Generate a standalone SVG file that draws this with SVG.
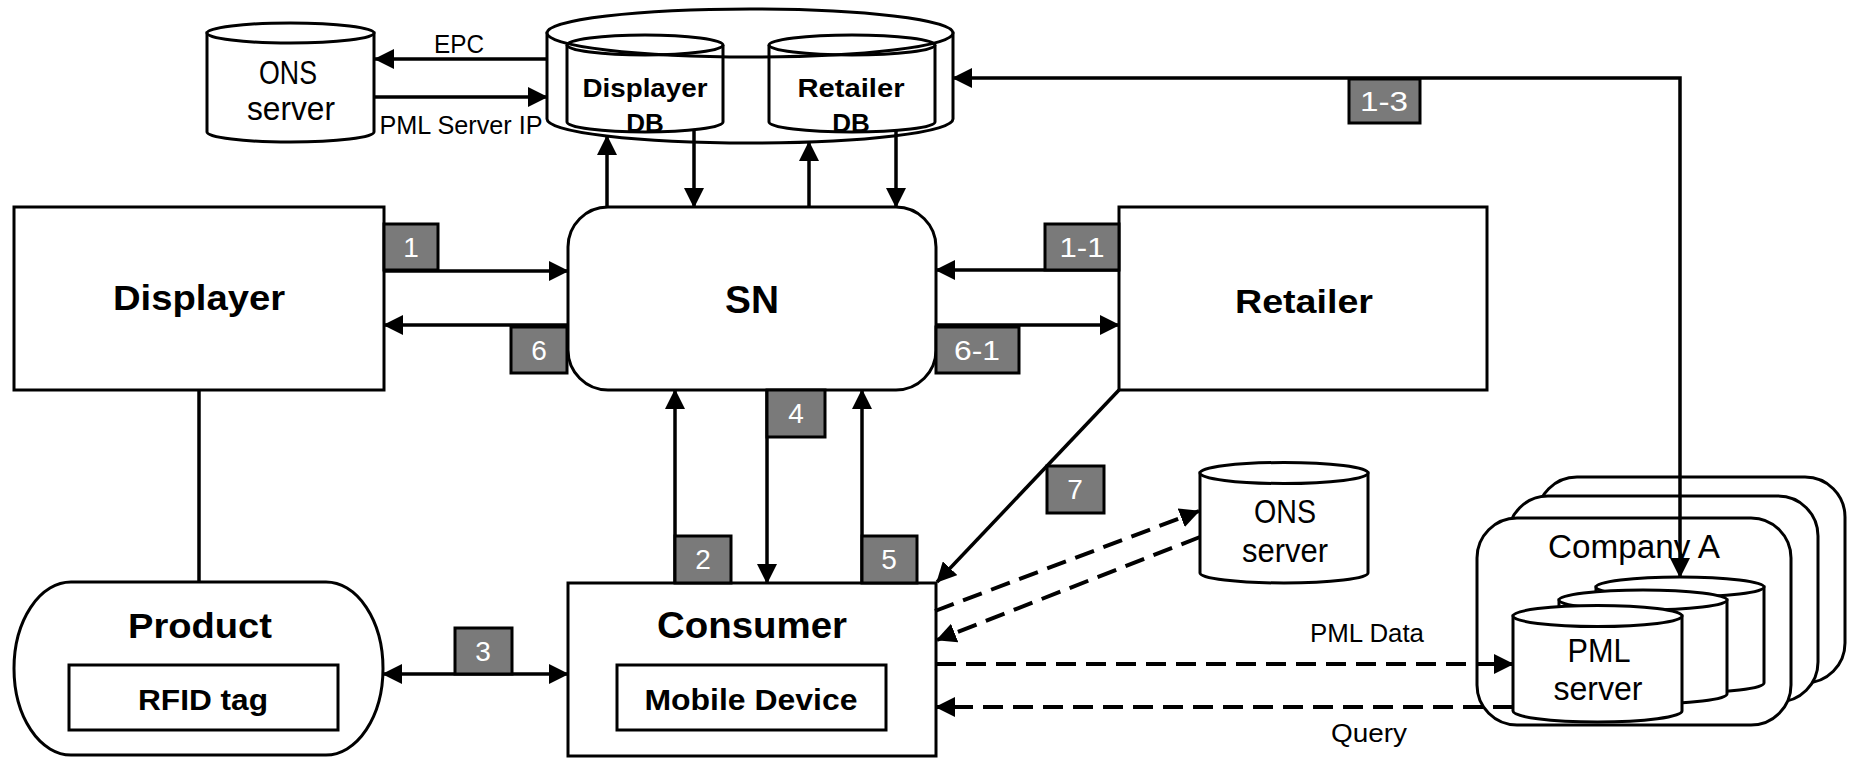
<svg xmlns="http://www.w3.org/2000/svg" width="1851" height="758" viewBox="0 0 1851 758">
  <defs>
    <marker id="ah" markerUnits="userSpaceOnUse" viewBox="0 0 20 20" markerWidth="20" markerHeight="20" refX="19" refY="10" orient="auto-start-reverse">
      <path d="M0,0 L20,10 L0,20 z" fill="#000"/>
    </marker>
    <style>
      .box { fill: #fff; stroke: #000; stroke-width: 3; }
      .open { fill: none; stroke: #000; stroke-width: 3; }
      .line { fill: none; stroke: #000; stroke-width: 3.5; }
      .arr { fill: none; stroke: #000; stroke-width: 3.5; marker-end: url(#ah); }
      .arr2 { fill: none; stroke: #000; stroke-width: 3.5; marker-start: url(#ah); marker-end: url(#ah); }
      .dash { fill: none; stroke: #000; stroke-width: 4; stroke-dasharray: 20 10; marker-end: url(#ah); }
      .badge rect { fill: #7a7a7a; stroke: #000; stroke-width: 3; }
      .badge text { fill: #fff; font-family: "Liberation Sans", Arial, sans-serif; font-size: 28px; text-anchor: middle; }
      .bold { font-family: "Liberation Sans", Arial, sans-serif; font-weight: bold; text-anchor: middle; fill: #000; }
      .thin { font-family: "Liberation Sans", Arial, sans-serif; text-anchor: middle; fill: #000; }
    </style>
  </defs>

  <!-- ONS server (top) -->
  <g id="ons-top">
    <path class="box" d="M207,33 V132 A83.5,10 0 0 0 374,132 V33 Z"/>
    <ellipse class="box" cx="290.5" cy="33" rx="83.5" ry="10"/>
    <text class="thin" x="288" y="84" font-size="33" textLength="58" lengthAdjust="spacingAndGlyphs">ONS</text>
    <text class="thin" x="291" y="120" font-size="33" textLength="88" lengthAdjust="spacingAndGlyphs">server</text>
  </g>

  <!-- SN database cylinder with Displayer DB and Retailer DB -->
  <g id="sn-db">
    <path class="box" d="M547,33 V119 A203,24 0 0 0 953,119 V33 Z"/>
    <ellipse class="box" cx="750" cy="33" rx="203" ry="24"/>
    <g id="displayer-db">
      <path class="open" d="M567,45 V122 A78,10 0 0 0 723,122 V45"/>
      <ellipse class="open" cx="645" cy="45" rx="78" ry="10"/>
      <text class="bold" x="645" y="97" font-size="26" textLength="125" lengthAdjust="spacingAndGlyphs">Displayer</text>
      <text class="bold" x="645" y="132" font-size="26">DB</text>
    </g>
    <g id="retailer-db">
      <path class="open" d="M769,45 V122 A83,10 0 0 0 935,122 V45"/>
      <ellipse class="open" cx="852" cy="45" rx="83" ry="10"/>
      <text class="bold" x="851" y="97" font-size="26" textLength="107" lengthAdjust="spacingAndGlyphs">Retailer</text>
      <text class="bold" x="851" y="132" font-size="26">DB</text>
    </g>
  </g>

  <!-- Main nodes -->
  <g id="displayer">
    <rect class="box" x="14" y="207" width="370" height="183"/>
    <text class="bold" x="199" y="310" font-size="35" textLength="172" lengthAdjust="spacingAndGlyphs">Displayer</text>
  </g>
  <g id="sn">
    <rect class="box" x="568" y="207" width="368" height="183" rx="40" ry="40"/>
    <text class="bold" x="752" y="313" font-size="39" textLength="54" lengthAdjust="spacingAndGlyphs">SN</text>
  </g>
  <g id="retailer">
    <rect class="box" x="1119" y="207" width="368" height="183"/>
    <text class="bold" x="1304" y="313" font-size="34" textLength="138" lengthAdjust="spacingAndGlyphs">Retailer</text>
  </g>
  <g id="product">
    <path class="box" d="M71,582 H326 A57,86.5 0 0 1 326,755 H71 A57,86.5 0 0 1 71,582 Z"/>
    <text class="bold" x="200" y="638" font-size="35" textLength="144" lengthAdjust="spacingAndGlyphs">Product</text>
    <rect class="box" x="69" y="665" width="269" height="65"/>
    <text class="bold" x="203" y="710" font-size="29" textLength="130" lengthAdjust="spacingAndGlyphs">RFID tag</text>
  </g>
  <g id="consumer">
    <rect class="box" x="568" y="583" width="368" height="173"/>
    <text class="bold" x="752" y="638" font-size="36" textLength="190" lengthAdjust="spacingAndGlyphs">Consumer</text>
    <rect class="box" x="617" y="665" width="269" height="65"/>
    <text class="bold" x="751" y="710" font-size="29" textLength="213" lengthAdjust="spacingAndGlyphs">Mobile Device</text>
  </g>

  <!-- ONS server (bottom) -->
  <g id="ons-bottom">
    <path class="box" d="M1200,473 V573 A84,10 0 0 0 1368,573 V473 Z"/>
    <ellipse class="box" cx="1284" cy="473" rx="84" ry="10.5"/>
    <text class="thin" x="1285" y="523" font-size="33" textLength="62" lengthAdjust="spacingAndGlyphs">ONS</text>
    <text class="thin" x="1285" y="562" font-size="33" textLength="86" lengthAdjust="spacingAndGlyphs">server</text>
  </g>

  <!-- Company A with stacked PML servers -->
  <g id="company-a">
    <rect class="box" x="1537" y="477" width="308" height="206" rx="40" ry="40"/>
    <rect class="box" x="1508" y="496" width="310" height="206" rx="40" ry="40"/>
    <rect class="box" x="1477" y="518" width="314" height="207" rx="40" ry="40"/>
    <text class="thin" x="1634" y="558" font-size="33" textLength="172" lengthAdjust="spacingAndGlyphs">Company A</text>
    <path class="box" d="M1596,587 V683 A84,10 0 0 0 1764,683 V587 Z"/>
    <ellipse class="box" cx="1680" cy="587" rx="84" ry="10"/>
    <path class="box" d="M1559,600 V694 A84,10 0 0 0 1727,694 V600 Z"/>
    <ellipse class="box" cx="1643" cy="600" rx="84" ry="10"/>
    <path class="box" d="M1513,616 V711 A84.5,11 0 0 0 1682,711 V616 Z"/>
    <ellipse class="box" cx="1597.5" cy="616" rx="84.5" ry="10.5"/>
    <text class="thin" x="1599" y="662" font-size="33" textLength="63" lengthAdjust="spacingAndGlyphs">PML</text>
    <text class="thin" x="1598" y="700" font-size="33" textLength="89" lengthAdjust="spacingAndGlyphs">server</text>
  </g>

  <!-- Connectors -->
  <g id="connectors">
    <path class="arr" d="M547,59 H375"/>
    <path class="arr" d="M375,97 H547"/>
    <path class="arr" d="M607,207 V136"/>
    <path class="arr" d="M694,130 V207"/>
    <path class="arr" d="M809,207 V142"/>
    <path class="arr" d="M896,131 V207"/>
    <path class="arr2" d="M953,78 H1680 V577"/>
    <path class="arr" d="M384,271 H568"/>
    <path class="arr" d="M568,325 H384"/>
    <path class="arr" d="M1119,270 H936"/>
    <path class="arr" d="M936,325 H1119"/>
    <path class="line" d="M199,390 V582"/>
    <path class="arr2" d="M383,674 H568"/>
    <path class="arr" d="M675,583 V390"/>
    <path class="arr" d="M767,390 V583"/>
    <path class="arr" d="M862,583 V390"/>
    <path class="arr" d="M1119,390 L937,582"/>
    <path class="dash" d="M935,611 L1199,511"/>
    <path class="dash" d="M1200,537 L937,640"/>
    <path class="dash" d="M936,664 H1513"/>
    <path class="dash" d="M1513,707 H936"/>
    <text class="thin" x="459" y="53" font-size="26" textLength="50" lengthAdjust="spacingAndGlyphs">EPC</text>
    <text class="thin" x="461" y="134" font-size="26" textLength="163" lengthAdjust="spacingAndGlyphs">PML Server IP</text>
    <text class="thin" x="1367" y="642" font-size="26" textLength="114" lengthAdjust="spacingAndGlyphs">PML Data</text>
    <text class="thin" x="1369" y="742" font-size="26" textLength="76" lengthAdjust="spacingAndGlyphs">Query</text>
  </g>

  <!-- Step badges -->
  <g id="badges">
    <g id="b1" class="badge"><rect x="384" y="224" width="54" height="46"/><text x="411" y="257">1</text></g>
    <g id="b6" class="badge"><rect x="511" y="327" width="56" height="46"/><text x="539" y="360">6</text></g>
    <g id="b1-1" class="badge"><rect x="1045" y="224" width="74" height="46"/><text x="1082" y="257" textLength="45" lengthAdjust="spacingAndGlyphs">1-1</text></g>
    <g id="b6-1" class="badge"><rect x="936" y="327" width="83" height="46"/><text x="977" y="360" textLength="46" lengthAdjust="spacingAndGlyphs">6-1</text></g>
    <g id="b1-3" class="badge"><rect x="1349" y="79" width="71" height="44"/><text x="1384" y="111" textLength="48" lengthAdjust="spacingAndGlyphs">1-3</text></g>
    <g id="b4" class="badge"><rect x="767" y="390" width="58" height="47"/><text x="796" y="423">4</text></g>
    <g id="b2" class="badge"><rect x="675" y="536" width="56" height="47"/><text x="703" y="569">2</text></g>
    <g id="b5" class="badge"><rect x="862" y="536" width="55" height="47"/><text x="889" y="569">5</text></g>
    <g id="b7" class="badge"><rect x="1047" y="466" width="57" height="47"/><text x="1075" y="499">7</text></g>
    <g id="b3" class="badge"><rect x="455" y="628" width="57" height="46"/><text x="483" y="661">3</text></g>
  </g>
</svg>
